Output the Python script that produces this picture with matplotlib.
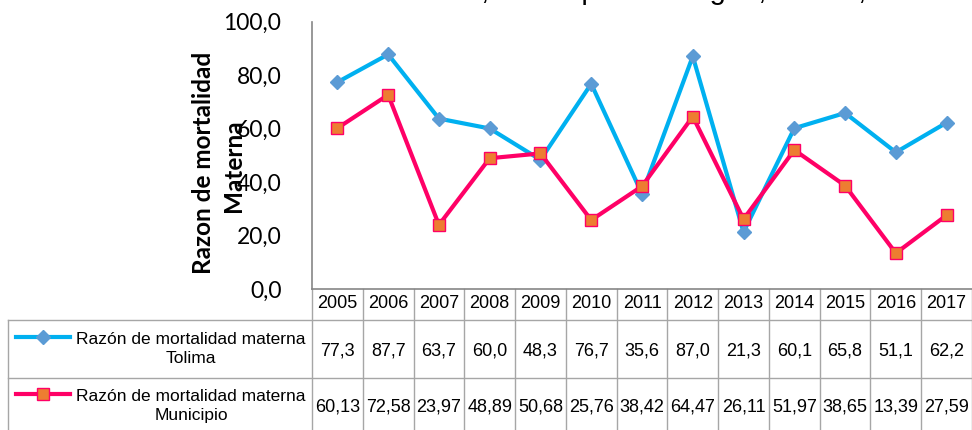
import matplotlib
matplotlib.use("Agg")
import matplotlib.pyplot as plt
from matplotlib.lines import Line2D
import matplotlib.transforms as mtransforms

# Data
years = ["2005", "2006", "2007", "2008", "2009", "2010", "2011",
         "2012", "2013", "2014", "2015", "2016", "2017"]
tolima = [77.3, 87.7, 63.7, 60.0, 48.3, 76.7, 35.6, 87.0, 21.3, 60.1, 65.8, 51.1, 62.2]
municipio = [60.13, 72.58, 23.97, 48.89, 50.68, 25.76, 38.42, 64.47, 26.11, 51.97, 38.65, 13.39, 27.59]
tolima_lbl = ["77,3", "87,7", "63,7", "60,0", "48,3", "76,7", "35,6",
              "87,0", "21,3", "60,1", "65,8", "51,1", "62,2"]
municipio_lbl = ["60,13", "72,58", "23,97", "48,89", "50,68", "25,76", "38,42",
                 "64,47", "26,11", "51,97", "38,65", "13,39", "27,59"]
series_names = ["Razón de mortalidad materna\nTolima",
                "Razón de mortalidad materna\nMunicipio"]
title = "Razón de mortalidad materna, municipio de Ibagué, Tolima, 2005 - 2017"

W, H = 972, 430
def fx(px):
    return px / W
def fy(py):
    return 1 - py / H

c_tol, c_tol_m = "#00B0F0", "#5B9BD5"
c_mun, c_mun_m = "#FF0066", "#ED7D31"
grid_c = "#A6A6A6"
tfont = "Liberation Sans"

fig = plt.figure(figsize=(9.72, 4.30), dpi=100)
ax = fig.add_axes([fx(312), fy(289), fx(972) - fx(312), fy(21.5) - fy(289)])

x = list(range(len(years)))
ax.plot(x, tolima, color=c_tol, lw=3, marker="D", ms=7, mfc=c_tol_m, mec=c_tol_m, zorder=3)
ax.plot(x, municipio, color=c_mun, lw=3, marker="s", ms=9, mfc=c_mun_m, mec=c_mun, mew=1, zorder=4)

ax.set_xlim(-0.5, len(years) - 0.5)
ax.set_ylim(0, 100)
ax.set_yticks([0, 20, 40, 60, 80, 100])
ax.set_yticklabels(["0,0", "20,0", "40,0", "60,0", "80,0", "100,0"], fontfamily="Lato", fontsize=16.5)
ax.set_xticks([])
ax.tick_params(axis="y", length=0, pad=22)
for s in ["top", "right"]:
    ax.spines[s].set_visible(False)
for s in ["left", "bottom"]:
    ax.spines[s].set_color("#868686")
    ax.spines[s].set_linewidth(1.2)

# y label (two lines, second overlaps ticks like the original)
fig.text(fx(203), fy(163), "Razon de mortalidad", rotation=90, ha="center", va="center",
         fontfamily="Lato", fontweight="bold", fontsize=17.5)
fig.text(fx(233), fy(166), "Materna", rotation=90, ha="center", va="center",
         fontfamily="Lato", fontweight="bold", fontsize=17.5)

# title, mostly outside the canvas
fig.text(fx(97), fy(-1), title, ha="left", va="baseline", fontfamily="Liberation Sans", fontsize=21)

# data table
tr = mtransforms.blended_transform_factory(ax.transData, fig.transFigure)
def hline(x0, x1, y):
    fig.add_artist(Line2D([fx(x0), fx(x1)], [fy(y), fy(y)], color=grid_c, lw=1))

hline(8, 972, 320)
hline(8, 972, 378)
fig.add_artist(Line2D([fx(8), fx(8)], [fy(320), fy(440)], color=grid_c, lw=1))
for i in range(len(years) + 1):
    ax.add_line(Line2D([i - 0.5, i - 0.5], [fy(289), fy(440)], transform=tr,
                       color=grid_c, lw=1, clip_on=False))

for i, yr in enumerate(years):
    ax.text(i, fy(304), yr, transform=tr, ha="center", va="center", fontfamily=tfont, fontsize=13)
    ax.text(i, fy(351), tolima_lbl[i], transform=tr, ha="center", va="center", fontfamily=tfont, fontsize=13)
    ax.text(i, fy(407), municipio_lbl[i], transform=tr, ha="center", va="center", fontfamily=tfont, fontsize=13)

# legend cells
rows = [(349, c_tol, "D", 7, c_tol_m, c_tol_m), (406, c_mun, "s", 9, c_mun_m, c_mun)]
for (yc, lc, mk, ms, mfc, mec), name in zip(rows, series_names):
    fig.add_artist(Line2D([fx(16), fx(70)], [fy(yc - 12)] * 2, color=lc, lw=3))
    fig.add_artist(Line2D([fx(43)], [fy(yc - 12)], marker=mk, ms=ms, mfc=mfc, mec=mec, mew=1, lw=0))
    fig.text(fx(191), fy(yc), name, ha="center", va="center", fontfamily=tfont,
             fontsize=12.5, linespacing=1.3)

fig.savefig("out.png", dpi=100)
